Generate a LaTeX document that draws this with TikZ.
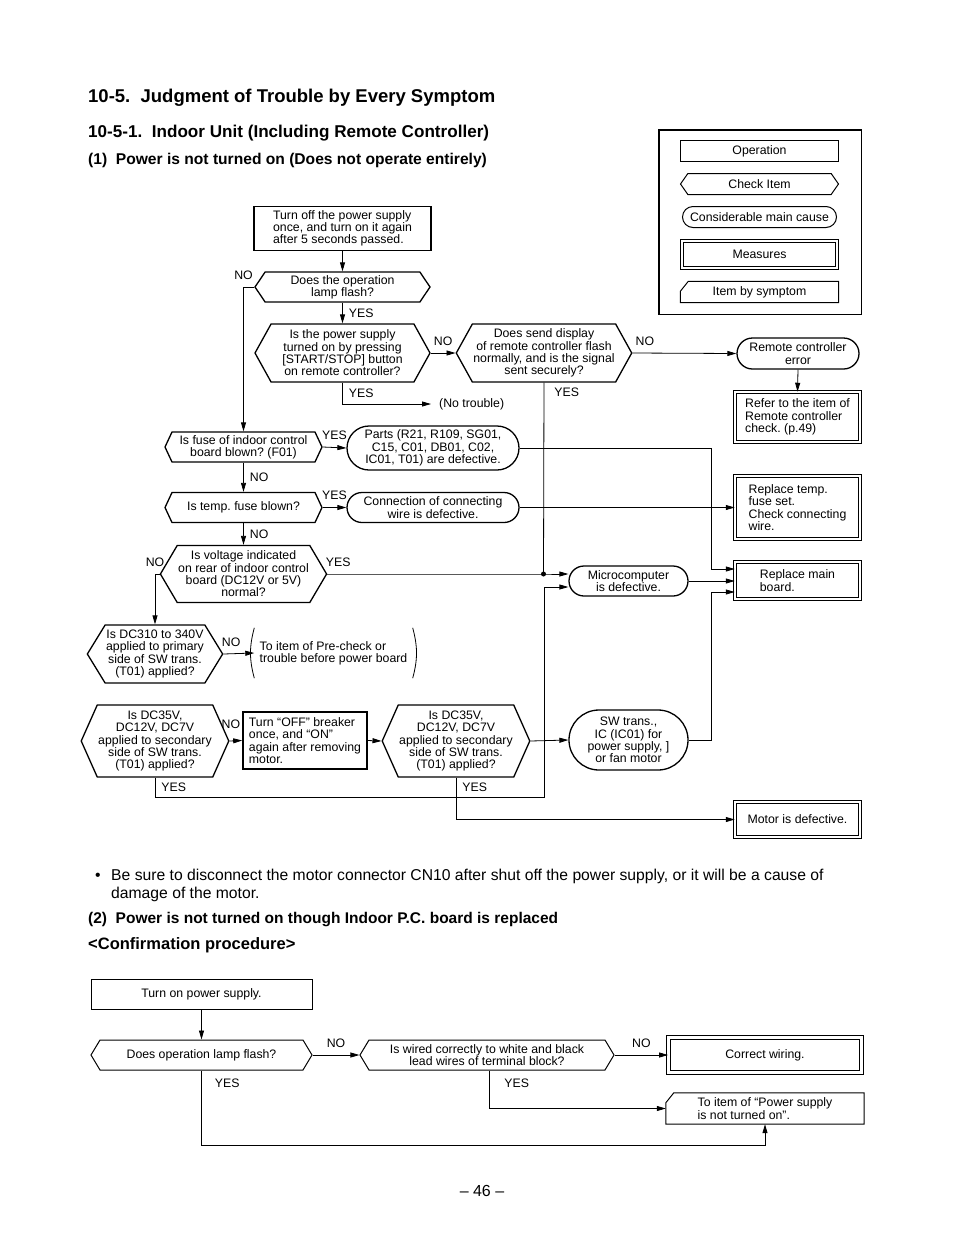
\documentclass[tikz,border=0pt]{standalone}
\usepackage{fontspec}
\setmainfont{Liberation Sans}
\frenchspacing
\usetikzlibrary{shapes.misc,shapes.symbols,arrows.meta}

\begin{document}
\begin{tikzpicture}[x=1pt,y=-1pt,
	font=\fontsize{12.3}{12.3}\selectfont,
	ops/.style={rectangle,draw,line width=1.3pt,inner sep=3pt},
	chk/.style={signal,signal to=east and west,draw,line width=1.3pt,inner sep=1pt,signal pointer angle=#1},
	chk/.default=120,
	cause/.style={rounded rectangle,draw,line width=1.3pt,inner sep=2pt},
	meas/.style={rectangle,draw,double,line width=1pt,double distance=2.4pt,inner sep=3pt},
	sym/.style={rectangle,inner sep=3pt,append after command={\pgfextra{\draw[line width=1pt]
		(\tikzlastnode.south west) -- ([yshift=-10pt]\tikzlastnode.north west) -- ([xshift=8pt]\tikzlastnode.north west)
		-- (\tikzlastnode.north east) -- (\tikzlastnode.south east) -- cycle;}}},
	arr/.style={draw,line width=0.8pt,-{Triangle[length=9pt,width=5pt]}},
	ln/.style={draw,line width=0.8pt},
	lbl/.style={inner xsep=6pt,inner ysep=7pt}]
	\fill[white] (0,0) rectangle (954,1235);
	\useasboundingbox (0,0) rectangle (954,1235);

	\node[anchor=base west,inner sep=0,font=\bfseries\fontsize{18.5}{18.5}\selectfont] (title) at (88,102) {10-5.\ \ Judgment of Trouble by Every Symptom};
	\node[anchor=base west,inner sep=0,font=\bfseries\fontsize{17.1}{17.1}\selectfont] (sub) at (88,137) {10-5-1.\ \ Indoor Unit (Including Remote Controller)};
	\node[anchor=base west,inner sep=0,font=\bfseries\fontsize{15.6}{15.6}\selectfont] (case1) at (88,164.5) {(1)\ \ Power is not turned on (Does not operate entirely)};

	% legend
	\node[draw,line width=1.5pt,minimum width=202.5,minimum height=184.5] (legend) at (760,222) {};
	\node[ops,line width=1pt,minimum width=158,minimum height=21] (kop) at (759.5,151) {Operation};
	\node[chk=110,line width=1pt,minimum width=158,minimum height=21] (kchk) at (759.5,184) {Check Item};
	\node[cause,line width=1pt,minimum width=158,minimum height=21] (kcause) at (759.5,217) {Considerable main cause};
	\node[meas,minimum width=154.5,minimum height=26.5] (kmeas) at (759.5,254.5) {Measures};
	\node[sym,minimum width=158,minimum height=21] (ksym) at (759.5,292) {Item by symptom};

	% flow (1)
	\node[ops,line width=1.6pt,minimum width=177,minimum height=44,align=left] (start) at (342.5,228.5) {Turn off the power supply\\once, and turn on it again\\after 5 seconds passed.};
	\node[chk=112,minimum width=175,minimum height=30,align=center] (q1) at (342.5,287) {Does the operation\\lamp flash?};
	\node[chk=122,minimum width=175,minimum height=58,align=center] (q2) at (342.5,353) {Is the power supply\\turned on by pressing\\{[START/STOP]} button\\on remote controller?};
	\node[chk=122,minimum width=174,minimum height=58,align=center] (q3) at (544,353) {Does send display\\of remote controller flash\\normally, and is the signal\\sent securely?};
	\node[anchor=west,inner xsep=8pt] (fine) at (431,404) {(No trouble)};
	\node[cause,minimum width=126,minimum height=31,align=center] (rce) at (798,353.5) {Remote controller\\error};
	\node[meas,minimum width=124.5,minimum height=49.5,align=left] (refer) at (797.5,417) {Refer to the item of\\Remote controller\\check. (p.49)};
	\node[chk=130,minimum width=157,minimum height=30,align=center] (fuse) at (243.5,447) {Is fuse of indoor control\\board blown? (F01)};
	\node[cause,minimum width=176,minimum height=44,align=center] (parts) at (433,448) {Parts (R21, R109, SG01,\\C15, C01, DB01, C02,\\IC01, T01) are defective.};
	\node[chk=130,minimum width=157,minimum height=30] (tfuse) at (243.5,507.5) {Is temp. fuse blown?};
	\node[cause,minimum width=176,minimum height=30,align=center] (conn) at (433,507.5) {Connection of connecting\\wire is defective.};
	\node[meas,minimum width=124.5,minimum height=62.5,align=left] (repl) at (797.5,507.5) {Replace temp.\\fuse set.\\Check connecting\\wire.};
	\node[chk=119,minimum width=157,minimum height=57,align=center] (volt) at (243.5,574) {Is voltage indicated\\on rear of indoor control\\board (DC12V or 5V)\\normal?};
	\node[cause,minimum width=123,minimum height=30,align=center] (micro) at (628.5,581) {Microcomputer\\is defective.};
	\node[meas,minimum width=124.5,minimum height=36.5,align=left] (main) at (797.5,580.5) {Replace main\\board.};
	\node[chk=117,minimum width=134,minimum height=58,align=center] (dc310) at (155,654) {Is DC310 to 340V\\applied to primary\\side of SW trans.\\(T01) applied?};
	\node[minimum width=158,minimum height=50,align=left] (pre) at (333.5,653) {To item of Pre-check or\\trouble before power board};
	\node[chk=132,minimum width=134,minimum height=72,align=center] (dca) at (155,741) {Is DC35V,\\DC12V, DC7V\\applied to secondary\\side of SW trans.\\(T01) applied?};
	\node[ops,line width=1.6pt,minimum width=124,minimum height=57,align=left] (off) at (305,740.5) {Turn “OFF” breaker\\once, and “ON”\\again after removing\\motor.};
	\node[chk=132,minimum width=132,minimum height=72,align=center] (dcb) at (456,741) {Is DC35V,\\DC12V, DC7V\\applied to secondary\\side of SW trans.\\(T01) applied?};
	\node[cause,minimum width=123,minimum height=60,align=center] (sw) at (628.5,740) {SW trans.,\\IC (IC01) for\\power supply, ]\\or fan motor};
	\node[meas,minimum width=124.5,minimum height=34.5] (motor) at (797.5,819.5) {Motor is defective.};

	\path[arr] (start.south) -- (q1.north);
	\path[arr] (q1.west) -| node[lbl,above] {NO} (fuse.north);
	\path[arr] (q1.south) -- node[lbl,right] {YES} (q2.north);
	\path[arr] (q2.east) -- node[lbl,above] {NO} (q3.west);
	\path[arr] (q2.south) |- node[lbl,right,pos=0.25] {YES} (fine.west);
	\path[arr] (q3.east) -- node[lbl,above,pos=0.12] {NO} (rce.west);
	\path[arr] (rce.south) -- (refer.north);
	\coordinate (jct) at (543.5,574);
	\path[ln] (q3.south) -- node[lbl,right,pos=0.05,xshift=4pt] {YES} (jct);
	\path[arr] (fuse.east) -- node[lbl,above] {YES} (parts.west);
	\path[arr] (fuse.south) -- node[lbl,right] {NO} (tfuse.north);
	\path[arr] (tfuse.east) -- node[lbl,above] {YES} (conn.west);
	\path[arr] (tfuse.south) -- node[lbl,right] {NO} (volt.north);
	\path[arr] (volt.east) -- node[lbl,above,pos=0.05] {YES} (jct) -- ([yshift=7pt]micro.west);
	\fill (jct) circle (2.5pt);
	\path[arr] (volt.west) -| node[lbl,above] {NO} (dc310.north);
	\path[arr] (parts.east) -| ([xshift=-23pt,yshift=11.5pt]main.west) -- ([yshift=11.5pt]main.west);
	\path[arr] (conn.east) -- (repl.west);
	\path[arr] (micro.east) -- (micro.east -| main.west);
	\path[arr] (sw.east) -| ([xshift=-23pt,yshift=-11.5pt]main.west) -- ([yshift=-11.5pt]main.west);
	\path[arr] (dc310.east) -- node[lbl,above,pos=0.25] {NO} (pre.west);
	\path[ln] (pre.north west) to[bend right=15] (pre.south west);
	\path[ln] (pre.north east) to[bend left=15] (pre.south east);
	\path[arr] (dca.east) -- node[lbl,above,yshift=5pt,xshift=-5pt] {NO} (off.west);
	\path[arr] (off.east) -- (dcb.west);
	\path[arr] (dca.south) -- node[lbl,right] {YES} ++(0,20) -| ([xshift=-23.5pt,yshift=-6pt]micro.west) -- ([yshift=-6pt]micro.west);
	\path[arr] (dcb.east) -- (sw.west);
	\path[arr] (dcb.south) |- node[lbl,right,pos=0.12] {YES} (motor.west);

	% notes
	\node[anchor=base west,inner sep=0,font=\fontsize{15.7}{18}\selectfont] (dot) at (95,880.5) {\textbullet};
	\node[anchor=north west,inner sep=0,align=left,font=\fontsize{15.7}{18}\selectfont] (note) at (111,869) {Be sure to disconnect the motor connector CN10 after shut off the power supply, or it will be a cause of\\damage of the motor.};
	\node[anchor=base west,inner sep=0,font=\bfseries\fontsize{15.5}{15.5}\selectfont] (case2) at (88,923.5) {(2)\ \ Power is not turned on though Indoor P.C. board is replaced};
	\node[anchor=base west,inner sep=0,font=\bfseries\fontsize{16.5}{16.5}\selectfont] (proc) at (88,949.5) {<Confirmation procedure>};

	% flow (2)
	\node[ops,line width=1pt,minimum width=221,minimum height=30] (bon) at (201.5,994) {Turn on power supply.};
	\node[chk=118,line width=1pt,minimum width=221,minimum height=30] (bq1) at (201.5,1055) {Does operation lamp flash?};
	\node[chk=118,line width=1pt,minimum width=254,minimum height=30,align=center] (bq2) at (487,1055) {Is wired correctly to white and black\\lead wires of terminal block?};
	\node[meas,line width=1.2pt,double distance=2.6pt,minimum width=192.6,minimum height=34.6] (bcw) at (765,1055) {Correct wiring.};
	\node[sym,minimum width=198,minimum height=31,align=left] (bto) at (765,1108.5) {To item of “Power supply\\is not turned on”.};

	\path[arr] (bon.south) -- (bq1.north);
	\path[arr] (bq1.east) -- node[lbl,above] {NO} (bq2.west);
	\path[arr] (bq2.east) -- node[lbl,above] {NO} (bcw.west);
	\path[arr] (bq1.south) -- node[lbl,right,pos=0.17,xshift=7pt] {YES} ++(0,75) -| (bto.south);
	\path[arr] ([xshift=2pt]bq2.south) |- node[lbl,right,pos=0.17,xshift=9pt] {YES} (bto.west);

	\node[font=\fontsize{16}{16}\selectfont] (page) at (482,1191) {– 46 –};
\end{tikzpicture}
\end{document}
